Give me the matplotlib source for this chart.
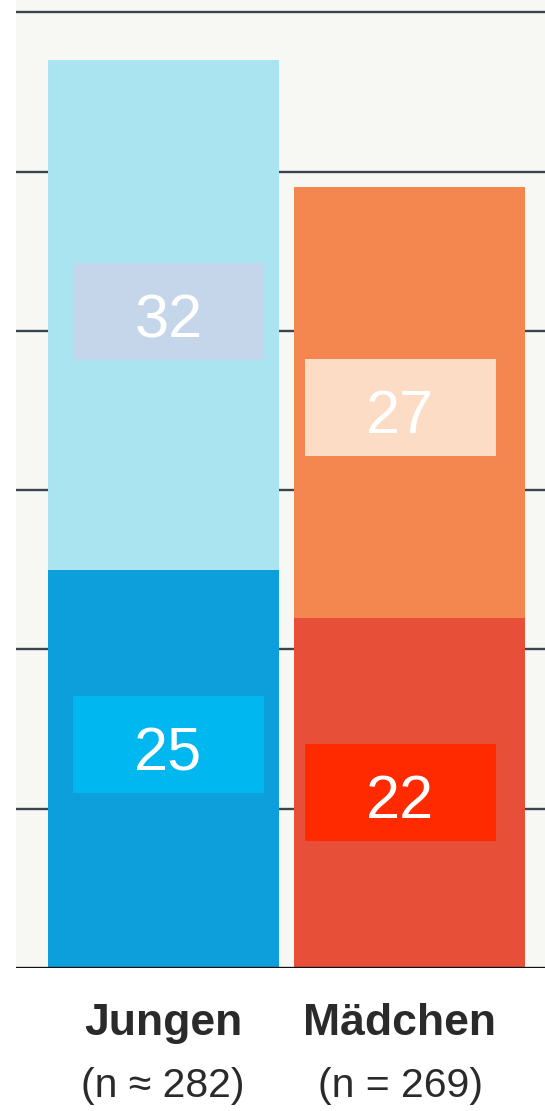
import matplotlib
matplotlib.use("Agg")
import matplotlib.pyplot as plt
from matplotlib.patches import Rectangle

# ---- data ----
categories = ["Jungen", "Mädchen"]
sample_labels = ["(n \u2248 282)", "(n = 269)"]
bottom_values = [25, 22]
top_values = [32, 27]
gridline_values = [10, 20, 30, 40, 50, 60]

# ---- style ----
bottom_colors = ["#0c9fdb", "#e84f39"]
top_colors = ["#abe4f1", "#f3874f"]
bottom_box_colors = ["#00b7ef", "#ff2a00"]
top_box_colors = ["#c5d6ea", "#fddcc5"]
label_family = ["Liberation Sans", "DejaVu Sans"]

W, H = 545, 1111
fig = plt.figure(figsize=(W / 100, H / 100), dpi=100)
fig.patch.set_facecolor("white")

ax_left, ax_bottom_px, ax_top_px = 16, 968, 0
ax = fig.add_axes([ax_left / W, (H - ax_bottom_px) / H, (W - ax_left) / W,
                   (ax_bottom_px - ax_top_px) / H])
ax.set_facecolor("#f7f8f4")
px_per_unit = 15.93
ax.set_ylim(0, (ax_bottom_px - ax_top_px) / px_per_unit)
bar_spacing_px = 246.0
ax.set_xlim(-(163 - ax_left) / bar_spacing_px, 1 + (W - 409) / bar_spacing_px)
for s in ax.spines.values():
    s.set_visible(False)
ax.set_xticks([])
ax.set_yticks([])

for g in gridline_values:
    ax.axhline(g, color="#3a444e", lw=1.7, zorder=0)
ax.axhline(0, color="#111111", lw=2.4, zorder=4)

x = list(range(len(categories)))
bar_w = 231 / bar_spacing_px
ax.bar(x, bottom_values, width=bar_w, color=bottom_colors, zorder=2, linewidth=0)
ax.bar(x, top_values, width=bar_w, bottom=bottom_values, color=top_colors,
       zorder=2, linewidth=0)

# value boxes
box_w = 191 / bar_spacing_px
box_h = 97 / px_per_unit
box_dx = [0.022, -0.035]
bottom_box_dy = [1.5, 0.0]
top_box_dy = [0.2, -0.3]
baseline_shift = 1.6
for i in x:
    cx = x[i] + box_dx[i]
    for val, base, dy, col in [
        (bottom_values[i], 0, bottom_box_dy[i], bottom_box_colors[i]),
        (top_values[i], bottom_values[i], top_box_dy[i], top_box_colors[i]),
    ]:
        cy = base + val / 2 + dy
        ax.add_patch(Rectangle((cx - box_w / 2, cy - box_h / 2), box_w, box_h,
                               facecolor=col, edgecolor="none", zorder=3))
        ax.text(cx, cy - baseline_shift, str(val), ha="center", va="baseline",
                color="white", fontsize=44, family=label_family, zorder=5)

# category labels
label_dx_px = [0, -9]
for i, (cat, n) in enumerate(zip(categories, sample_labels)):
    xf = (163 + i * bar_spacing_px + label_dx_px[i]) / W
    fig.text(xf, 1 - 1035 / H, cat, ha="center", va="baseline", fontsize=32,
             fontweight="bold", color="#2a2a2a", family=label_family)
    fig.text(xf, 1 - 1097 / H, n, ha="center", va="baseline", fontsize=29.5,
             color="#2a2a2a", family=label_family)

fig.savefig("out.png", dpi=100, facecolor="white")
